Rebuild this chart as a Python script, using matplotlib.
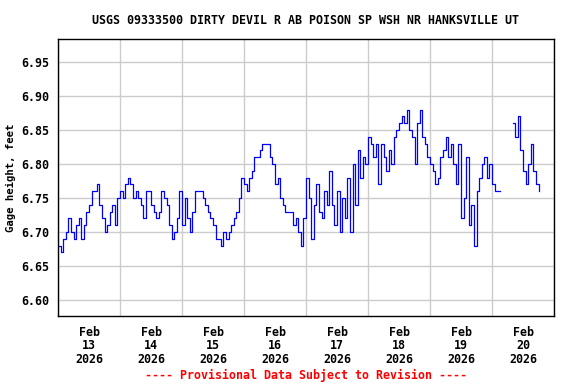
from matplotlib import pyplot as plt
import numpy as np
import pandas as pd

# hourly gage height readings (feet), starting Feb 13 2026 00:00, None = missing data
gage_ft = [
    # Feb 13
    6.68, 6.67, 6.69, 6.70, 6.72, 6.70, 6.69, 6.71, 6.72, 6.69, 6.71, 6.73,
    6.74, 6.76, 6.76, 6.77, 6.74, 6.72, 6.70, 6.71, 6.73, 6.74, 6.71, 6.75,
    # Feb 14
    6.76, 6.75, 6.77, 6.78, 6.77, 6.75, 6.76, 6.75, 6.74, 6.72, 6.76, 6.76,
    6.74, 6.73, 6.72, 6.73, 6.76, 6.75, 6.74, 6.71, 6.69, 6.70, 6.72, 6.76,
    # Feb 15
    6.71, 6.75, 6.72, 6.70, 6.73, 6.76, 6.76, 6.76, 6.75, 6.74, 6.73, 6.72,
    6.71, 6.69, 6.69, 6.68, 6.70, 6.69, 6.70, 6.71, 6.72, 6.73, 6.75, 6.78,
    # Feb 16
    6.77, 6.76, 6.78, 6.79, 6.81, 6.81, 6.82, 6.83, 6.83, 6.83, 6.81, 6.80,
    6.77, 6.78, 6.75, 6.74, 6.73, 6.73, 6.73, 6.71, 6.72, 6.70, 6.68, 6.72,
    # Feb 17
    6.78, 6.75, 6.69, 6.74, 6.77, 6.73, 6.72, 6.76, 6.74, 6.79, 6.74, 6.71,
    6.76, 6.70, 6.75, 6.72, 6.78, 6.70, 6.80, 6.74, 6.82, 6.78, 6.81, 6.80,
    # Feb 18
    6.84, 6.83, 6.81, 6.83, 6.77, 6.83, 6.81, 6.79, 6.82, 6.80, 6.84, 6.85,
    6.86, 6.87, 6.86, 6.88, 6.85, 6.84, 6.80, 6.86, 6.88, 6.84, 6.83, 6.81,
    # Feb 19
    6.80, 6.79, 6.77, 6.78, 6.81, 6.82, 6.84, 6.81, 6.83, 6.80, 6.77, 6.83,
    6.72, 6.75, 6.81, 6.71, 6.74, 6.68, 6.76, 6.78, 6.80, 6.81, 6.78, 6.80,
    # Feb 20
    6.77, 6.76, 6.76, None, None, None, None, None, 6.86, 6.84, 6.87, 6.82,
    6.79, 6.77, 6.80, 6.83, 6.79, 6.77, 6.76,
]

tick_labels = ['Feb\n13\n2026', 'Feb\n14\n2026', 'Feb\n15\n2026', 'Feb\n16\n2026',
               'Feb\n17\n2026', 'Feb\n18\n2026', 'Feb\n19\n2026', 'Feb\n20\n2026']
y_ticks = [6.60, 6.65, 6.70, 6.75, 6.80, 6.85, 6.90, 6.95]

title = 'USGS 09333500 DIRTY DEVIL R AB POISON SP WSH NR HANKSVILLE UT'
footer = '---- Provisional Data Subject to Revision ----'

# building the time axis
times = pd.date_range('2026-02-13 00:00', periods=len(gage_ft), freq='h')
values = np.array(gage_ft, dtype=float)

start = pd.Timestamp('2026-02-13 00:00')
midnights = pd.date_range(start, periods=9, freq='D')
noons = midnights[:-1] + pd.Timedelta(hours=12)

font = {'family': 'DejaVu Sans Mono', 'weight': 'bold'}
plt.rcParams['font.family'] = 'DejaVu Sans Mono'
plt.rcParams['font.weight'] = 'bold'

fig = plt.figure(figsize=(5.76, 3.84), dpi=100)
ax = fig.add_axes([58 / 576, 1 - 316 / 384, 496 / 576, 277 / 384])

ax.plot(times, values, color='#0000FF', linewidth=0.9, drawstyle='steps-post')

# axes limits and ticks
ax.set_xlim(midnights[0], midnights[-1])
ax.set_ylim(6.5765, 6.984)
ax.set_yticks(y_ticks, ['%.2f' % v for v in y_ticks])
ax.set_xticks(noons, tick_labels)
ax.set_xticks(midnights, minor=True)
ax.tick_params(which='both', length=0, labelsize=8.4)
ax.tick_params(axis='x', pad=7)
ax.tick_params(axis='y', pad=6)
for label in ax.get_xticklabels():
    label.set_linespacing(1.05)

# grid
ax.set_axisbelow(True)
ax.grid(which='major', axis='y', color='#CCCCCC', linewidth=1.0)
ax.grid(which='minor', axis='x', color='#CCCCCC', linewidth=1.0)
ax.grid(which='major', axis='x', visible=False)
for spine in ax.spines.values():
    spine.set_linewidth(1.0)
    spine.set_color('black')

# texts
fig.text(306 / 576, 1 - 20 / 384, title, ha='center', va='center', fontsize=8.4, **font)
fig.text(11 / 576, 1 - 178 / 384, 'Gage height, feet', rotation=90, ha='center', va='center',
         fontsize=7.7, **font)
fig.text(306 / 576, 1 - 375 / 384, footer, ha='center', va='center', fontsize=8.4,
         color='#FF0000', **font)

fig.savefig('out.png', dpi=100)
